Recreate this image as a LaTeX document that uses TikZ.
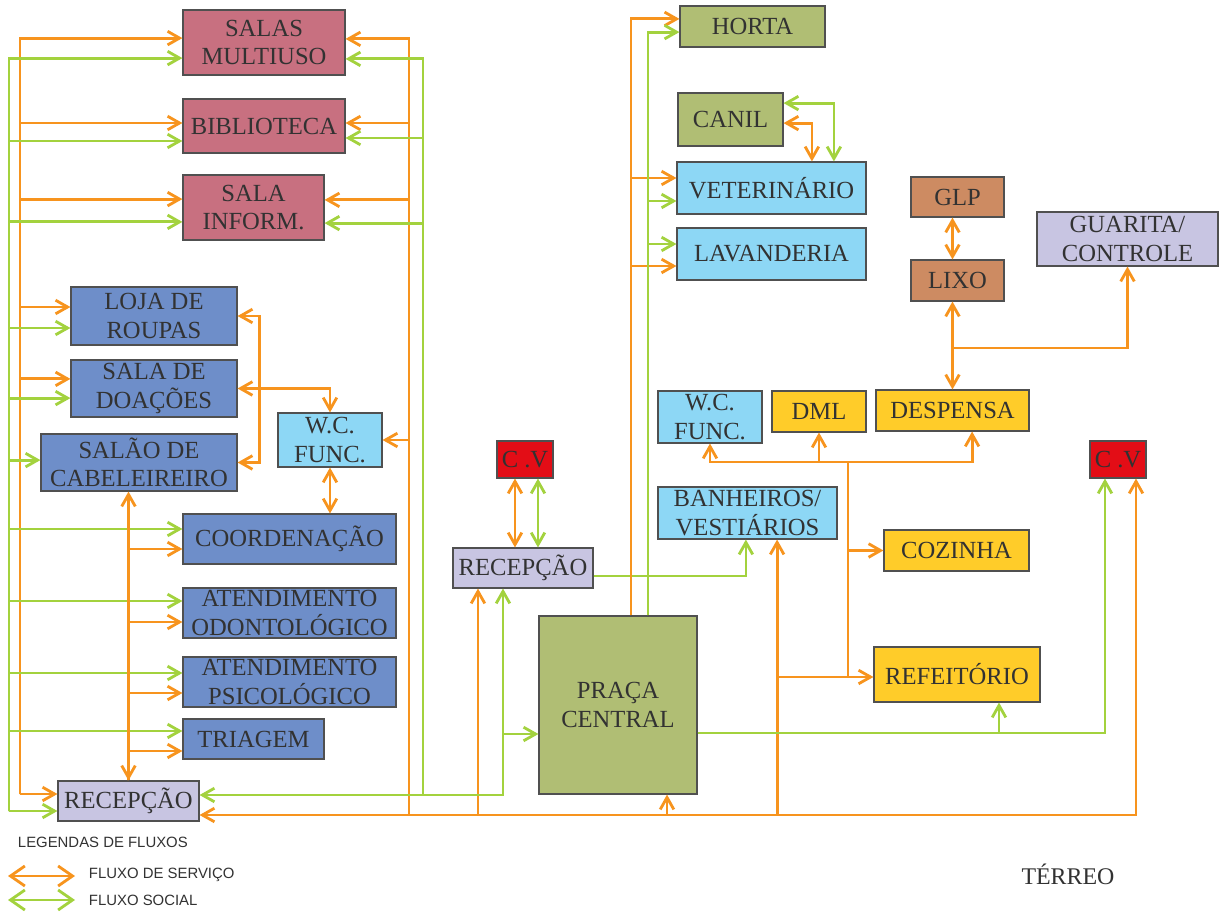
\documentclass[tikz,border=0pt]{standalone}
\usepackage{fontspec}
\setmainfont{Liberation Serif}
\setsansfont{Liberation Sans}
\usetikzlibrary{arrows.meta}

\definecolor{laranja}{RGB}{247,148,30}
\definecolor{verde}{RGB}{163,210,62}
\definecolor{borda}{RGB}{80,80,80}
\definecolor{texto}{RGB}{50,50,50}
\definecolor{corrosa}{RGB}{200,112,128}
\definecolor{corazul}{RGB}{110,142,201}
\definecolor{corceleste}{RGB}{141,215,245}
\definecolor{corlilas}{RGB}{200,197,226}
\definecolor{coroliva}{RGB}{176,190,116}
\definecolor{coramarelo}{RGB}{255,204,41}
\definecolor{cormarrom}{RGB}{205,139,98}
\definecolor{corvermelho}{RGB}{227,13,22}

\tikzset{
  caixa/.style={draw=borda, line width=0.8pt, text=texto, inner sep=0pt,
    align=center, font=\fontsize{17.5}{20}\selectfont},
  tam/.style 2 args={minimum width=#1cm, minimum height=#2cm},
  rosa/.style={caixa, fill=corrosa},
  azul/.style={caixa, fill=corazul},
  celeste/.style={caixa, fill=corceleste},
  lilas/.style={caixa, fill=corlilas},
  oliva/.style={caixa, fill=coroliva},
  amarelo/.style={caixa, fill=coramarelo},
  marrom/.style={caixa, fill=cormarrom},
  vermelho/.style={caixa, fill=corvermelho},
  serv/.style={draw=laranja, line width=2pt},
  soc/.style={draw=verde, line width=2pt},
  legenda/.style={text=texto, font=\sffamily\fontsize{10.6}{12}\selectfont},
  legseta/.style={>={Straight Barb[length=3.6mm,width=5mm]}}
}

\begin{document}
\begin{tikzpicture}[x=0.025cm, y=-0.025cm, >={Straight Barb[length=3mm,width=3.4mm]}]
    \fill[white] (0,0) rectangle (1224,913);
    \useasboundingbox (0,0) rectangle (1224,913);
    \node[rosa, tam={4.05}{1.625}] (salas) at (264,42.5) {SALAS\\MULTIUSO};
    \node[rosa, tam={4.05}{1.35}] (biblio) at (264,126) {BIBLIOTECA};
    \node[rosa, tam={3.525}{1.625}] (sinf) at (253.5,207.5) {SALA\\INFORM.};
    \node[azul, tam={4.15}{1.45}] (loja) at (154,316) {LOJA DE\\ROUPAS};
    \node[azul, tam={4.15}{1.425}] (doacoes) at (154,388.5) {SALA DE\\DOAÇÕES};
    \node[azul, tam={4.9}{1.425}] (salao) at (139,462.5) {SALÃO DE\\CABELEIREIRO};
    \node[celeste, tam={2.6}{1.35}] (wc1) at (330,440) {W.C.\\FUNC.};
    \node[azul, tam={5.325}{1.25}] (coord) at (289.5,539) {COORDENAÇÃO};
    \node[azul, tam={5.325}{1.25}] (odonto) at (289.5,613) {ATENDIMENTO\\ODONTOLÓGICO};
    \node[azul, tam={5.325}{1.25}] (psico) at (289.5,682) {ATENDIMENTO\\PSICOLÓGICO};
    \node[azul, tam={3.525}{1}] (triagem) at (253.5,739) {TRIAGEM};
    \node[lilas, tam={3.525}{1}] (recep1) at (128.5,801) {RECEPÇÃO};
    \node[vermelho, tam={1.4}{0.925}] (cv1) at (525,459.5) {C .V};
    \node[lilas, tam={3.5}{1}] (recep2) at (523,568) {RECEPÇÃO};
    \node[oliva, tam={3.95}{4.45}] (praca) at (618,705) {PRAÇA\\CENTRAL};
    \node[oliva, tam={3.625}{1.025}] (horta) at (752.5,26.5) {HORTA};
    \node[oliva, tam={2.625}{1.325}] (canil) at (730.5,119.5) {CANIL};
    \node[celeste, tam={4.725}{1.3}] (vet) at (771.5,188) {VETERINÁRIO};
    \node[celeste, tam={4.725}{1.3}] (lav) at (771.5,254) {LAVANDERIA};
    \node[celeste, tam={2.6}{1.3}] (wc2) at (710,417) {W.C.\\FUNC.};
    \node[amarelo, tam={2.35}{1.025}] (dml) at (819,411.5) {DML};
    \node[amarelo, tam={3.825}{1.025}] (desp) at (952.5,410.5) {DESPENSA};
    \node[celeste, tam={4.475}{1.3}] (banh) at (747.5,513) {BANHEIROS/\\VESTIÁRIOS};
    \node[amarelo, tam={3.625}{1.025}] (coz) at (956.5,550.5) {COZINHA};
    \node[amarelo, tam={4.15}{1.375}] (refeit) at (957,674.5) {REFEITÓRIO};
    \node[marrom, tam={2.325}{1}] (glp) at (957.5,197) {GLP};
    \node[marrom, tam={2.325}{1.025}] (lixo) at (957.5,280.5) {LIXO};
    \node[lilas, tam={4.525}{1.35}] (guarita) at (1127.5,239) {GUARITA/\\CONTROLE};
    \node[vermelho, tam={1.4}{0.925}] (cv2) at (1118,459.5) {C .V};
    \node[text=texto, font=\fontsize{17}{20}\selectfont] (terreo) at (1068,874) {TÉRREO};
    \node[legenda, anchor=west] (legtit) at (13,842) {LEGENDAS DE FLUXOS};
    \node[legenda, anchor=west] (legserv) at (84,875) {FLUXO DE SERVIÇO};
    \node[legenda, anchor=west] (legsoc) at (84,900) {FLUXO SOCIAL};
    \coordinate (oL) at (20,794);
    \coordinate (gL) at (9,811);
    \coordinate (oR) at (409,815);
    \coordinate (gR) at (423,795);
    \coordinate (kc) at (848,677);
    \coordinate (kt) at (848,462);
    \coordinate (lj) at (952.5,348);
    \coordinate (r2o) at ([xshift=-11.25mm]recep2.south);
    \coordinate (r2g) at ([xshift=-5mm]recep2.south);
    \coordinate (bo) at ([xshift=7.4mm]banh.south);
    \coordinate (pw) at ([yshift=-7.25mm]praca.west);
    \coordinate (pe) at ([yshift=-7mm]praca.east);
    \coordinate (po) at ([xshift=3.25mm]praca.north);
    \coordinate (pg) at ([xshift=7.5mm]praca.north);
    \coordinate (cvo) at ([xshift=-2.5mm]cv1.south);
    \coordinate (cvg) at ([xshift=3.25mm]cv1.south);
    \coordinate (bx) at ([xshift=5.5mm]doacoes.east);
    \coordinate (l1a) at (8,876);
    \coordinate (l1b) at (75,876);
    \coordinate (l2a) at (8,900);
    \coordinate (l2b) at (75,900);
    \draw[serv,->] (oL) |- ([yshift=1.1mm]salas.west);
    \draw[serv,->] (oL) |- ([yshift=0.75mm]biblio.west);
    \draw[serv,->] (oL) |- ([yshift=2.1mm]sinf.west);
    \draw[serv,->] (oL) |- ([yshift=2.25mm]loja.west);
    \draw[serv,->] (oL) |- ([yshift=2.4mm]doacoes.west);
    \draw[serv,->] (oL) -- (oL -| recep1.west);
    \draw[soc,->] (gL) |- ([yshift=-3.9mm]salas.west);
    \draw[soc,->] (gL) |- ([yshift=-3.75mm]biblio.west);
    \draw[soc,->] (gL) |- ([yshift=-3.6mm]sinf.west);
    \draw[soc,->] (gL) |- ([yshift=-3mm]loja.west);
    \draw[soc,->] (gL) |- ([yshift=-2.4mm]doacoes.west);
    \draw[soc,->] (gL) |- ([yshift=0.6mm]salao.west);
    \draw[soc,->] (gL) |- ([yshift=2.5mm]coord.west);
    \draw[soc,->] (gL) |- ([yshift=3mm]odonto.west);
    \draw[soc,->] (gL) |- ([yshift=2.25mm]psico.west);
    \draw[soc,->] (gL) |- ([yshift=2mm]triagem.west);
    \draw[soc,->] (gL) -- (gL -| recep1.west);
    \draw[serv,<->] (recep1.north) -- (recep1.north |- salao.south);
    \draw[serv,->] (recep1.north) |- ([yshift=-2.5mm]coord.west);
    \draw[serv,->] (recep1.north) |- ([yshift=-2.25mm]odonto.west);
    \draw[serv,->] (recep1.north) |- ([yshift=-2.75mm]psico.west);
    \draw[serv,->] (recep1.north) |- ([yshift=-3mm]triagem.west);
    \draw[serv,<->] (loja.east) -| (bx) |- (salao.east);
    \draw[serv,<->] (doacoes.east) -| (wc1.north);
    \draw[serv,<->] (wc1.south) -- (wc1.south |- coord.north);
    \draw[serv,->] (oR) |- ([yshift=0.9mm]salas.east);
    \draw[serv,->] (oR) |- ([yshift=0.75mm]biblio.east);
    \draw[serv,->] (oR) |- ([yshift=1.9mm]sinf.east);
    \draw[serv,->] (oR) |- (wc1.east);
    \draw[soc,->] (gR) |- ([yshift=-4.1mm]salas.east);
    \draw[soc,->] (gR) |- ([yshift=-3mm]biblio.east);
    \draw[soc,->] (gR) |- ([yshift=-3.9mm]sinf.east);
    \draw[serv,<->] ([yshift=-3.5mm]recep1.east) -| ([xshift=4.5mm]cv2.south);
    \draw[serv,->] (oR) -| (r2o);
    \draw[serv,->] (oR) -| ([xshift=12.25mm]praca.south);
    \draw[serv,->] (oR) -| (bo);
    \draw[serv,->] (bo |- kc) -- (kc -| refeit.west);
    \draw[serv] (kc) -- (kt);
    \draw[serv,->] (kt) -| (wc2.south);
    \draw[serv,->] (kt) -| (dml.south);
    \draw[serv,->] (kt) -| ([xshift=4.9mm]desp.south);
    \draw[serv,->] (kt |- coz.west) -- (coz.west);
    \draw[soc,<->] ([yshift=1.5mm]recep1.east) -| (r2g);
    \draw[soc,->] (r2g |- pw) -- (pw);
    \draw[soc,->] ([yshift=-2mm]recep2.east) -| ([xshift=-0.4mm]banh.south);
    \draw[serv,<->] (cvo) -- (cvo |- recep2.north);
    \draw[soc,<->] (cvg) -- (cvg |- recep2.north);
    \draw[serv,->] (po) |- ([yshift=1.9mm]horta.west);
    \draw[serv,->] (po) |- ([yshift=2.5mm]vet.west);
    \draw[serv,->] (po) |- ([yshift=-3mm]lav.west);
    \draw[soc,->] (pg) |- ([yshift=-1.4mm]horta.west);
    \draw[soc,->] (pg) |- ([yshift=-3.25mm]vet.west);
    \draw[soc,->] (pg) |- ([yshift=2.5mm]lav.west);
    \draw[serv,<->] ([yshift=-0.9mm]canil.east) -| ([xshift=10.1mm]vet.north);
    \draw[soc,<->] ([yshift=4.1mm]canil.east) -| ([xshift=15.6mm]vet.north);
    \draw[serv,<->] (desp.north |- glp.south) -- (desp.north |- lixo.north);
    \draw[serv,<->] (desp.north |- lixo.south) -- (desp.north);
    \draw[serv,->] (lj) -| (guarita.south);
    \draw[soc,->] (pe) -| ([xshift=-3.25mm]cv2.south);
    \draw[soc,->] (pe) -| ([xshift=10.5mm]refeit.south);
    \draw[serv,legseta,<->] (l1a) -- (l1b);
    \draw[soc,legseta,<->] (l2a) -- (l2b);
\end{tikzpicture}
\end{document}
